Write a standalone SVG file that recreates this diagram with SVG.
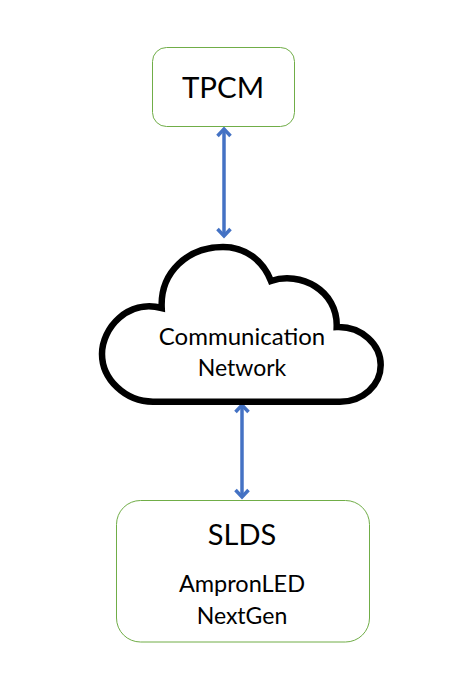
<svg xmlns="http://www.w3.org/2000/svg" width="475" height="689" viewBox="0 0 475 689">
<style>
text{font-family:Lato,"Open Sans",sans-serif;fill:#000;text-anchor:middle}
.box{fill:#fff;stroke:#70ad47;stroke-width:1}
.conn{fill:none;stroke:#4472c4;stroke-width:3.500;marker-start:url(#a);marker-end:url(#a)}
</style>
<defs>
<marker id="a" viewBox="-12 -8 16 16" markerWidth="16" markerHeight="16" markerUnits="userSpaceOnUse" refX="0" refY="0" orient="auto-start-reverse">
<path d="M-7-6.500L0 0L-7 6.500" fill="none" stroke="#4472c4" stroke-width="3.500"/>
</marker>
</defs>
<rect width="475" height="689" fill="#fff"/>
<g id="connectors">
<path class="conn" d="M224 129V236"/>
<path class="conn" d="M242 405V497"/>
</g>
<g id="tpcm">
<rect class="box" x="152.500" y="47.500" width="142" height="79" rx="14"/>
<text x="223" y="98" font-size="29.500">TPCM</text>
</g>
<g id="cloud">
<path d="M161.700 308C160 272 188 247 223 247C245 247 263 260 271 281C300 271 338 290 336.700 327C362 326 380.700 345 380.700 365C380.700 385 363 401.700 340 401.700H153C125 401.700 102 379 102 354C102 328 128 299 161.700 308Z" fill="#fff" stroke="#000" stroke-width="6.500" stroke-linejoin="miter"/>
<text x="242" y="345" font-size="24">Communication</text>
<text x="242" y="376" font-size="23">Network</text>
</g>
<g id="slds">
<rect class="box" x="116.500" y="500.500" width="253" height="141.500" rx="24"/>
<text x="242" y="545" font-size="29">SLDS</text>
<text x="242" y="592" font-size="23.500">AmpronLED</text>
<text x="242" y="624" font-size="23">NextGen</text>
</g>
</svg>
